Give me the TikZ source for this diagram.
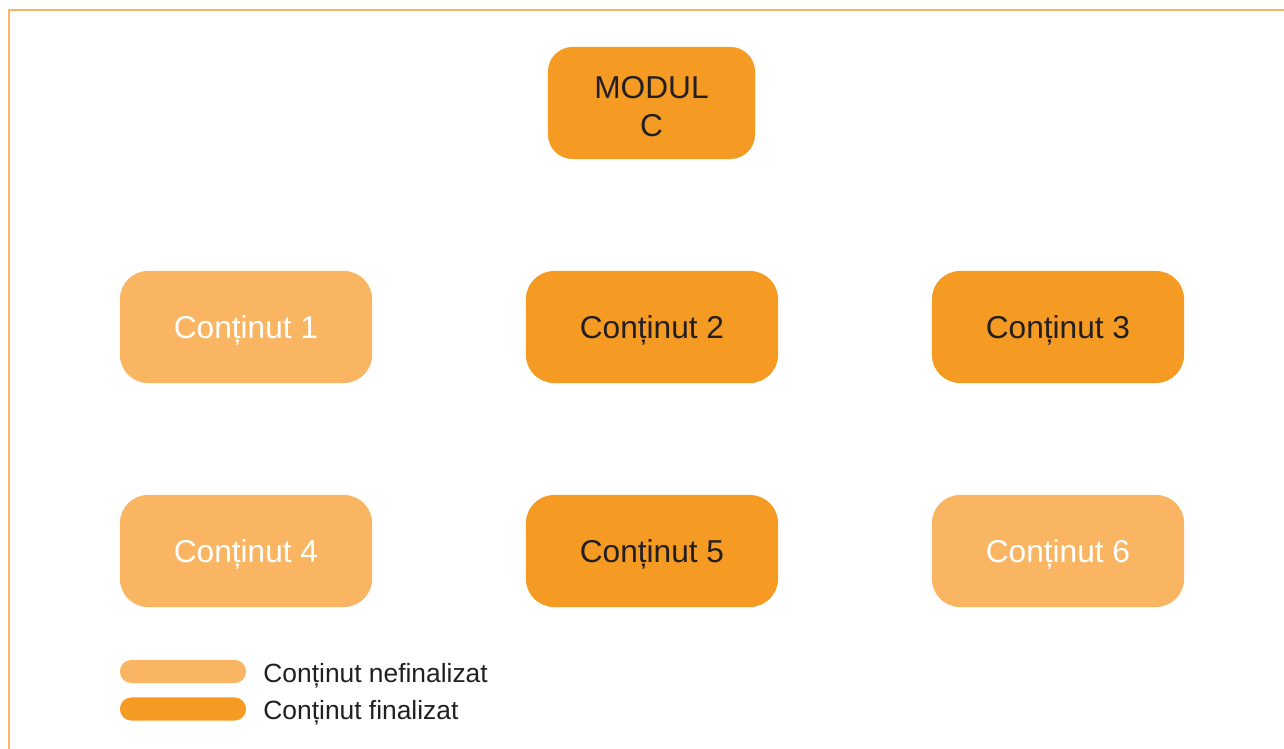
\documentclass[tikz,border=0pt]{standalone}
\usepackage{fontspec}
\setmainfont{Liberation Sans}
\usetikzlibrary{positioning}
\definecolor{doneorange}{HTML}{F59A23}
\definecolor{todoorange}{HTML}{F9B562}
\definecolor{darktext}{HTML}{231F20}

\tikzset{
	box/.style = {rounded corners = 8pt, minimum width = 2.52cm, minimum height = 1.12cm, inner sep = 0pt, text depth = 0pt, font = \fontsize{9}{10.8}\selectfont},
	done/.style = {box, fill = doneorange, text = darktext},
	todo/.style = {box, fill = todoorange, text = white},
	legendbar/.style = {rounded corners = 3.2pt, minimum width = 1.26cm, minimum height = .23cm, inner sep = 0pt},
	legendtext/.style = {inner sep = 0pt, text depth = 0pt, text = darktext, font = \fontsize{7.5}{9}\selectfont}
}

\begin{document}
\begin{tikzpicture}[x = .01cm, y = -.01cm]
	\useasboundingbox (0,0) rectangle (1284,749);
	% frame
	\draw[todoorange, line width = .6pt] (1284,10) -- (9,10) -- (9,749);
	% module
	\node[done, minimum width = 2.07cm, rounded corners = 7pt, align = center, text height = 19pt] (modul) at (651.5,103) {MODUL\\C};
	% contents
	\node[todo] (c1) at (246,327) {Conținut 1};
	\node[done] (c2) at (652,327) {Conținut 2};
	\node[done] (c3) at (1058,327) {Conținut 3};
	\node[todo] (c4) at (246,551) {Conținut 4};
	\node[done] (c5) at (652,551) {Conținut 5};
	\node[todo] (c6) at (1058,551) {Conținut 6};
	% legend
	\node[legendbar, fill = todoorange] (bartodo) at (183,671.5) {};
	\node[legendbar, fill = doneorange] (bardone) at (183,709) {};
	\node[legendtext, right = .16cm of bartodo, yshift = -.3pt] (legtodo) {Conținut nefinalizat};
	\node[legendtext, right = .16cm of bardone, yshift = -.3pt] (legdone) {Conținut finalizat};
\end{tikzpicture}
\end{document}
